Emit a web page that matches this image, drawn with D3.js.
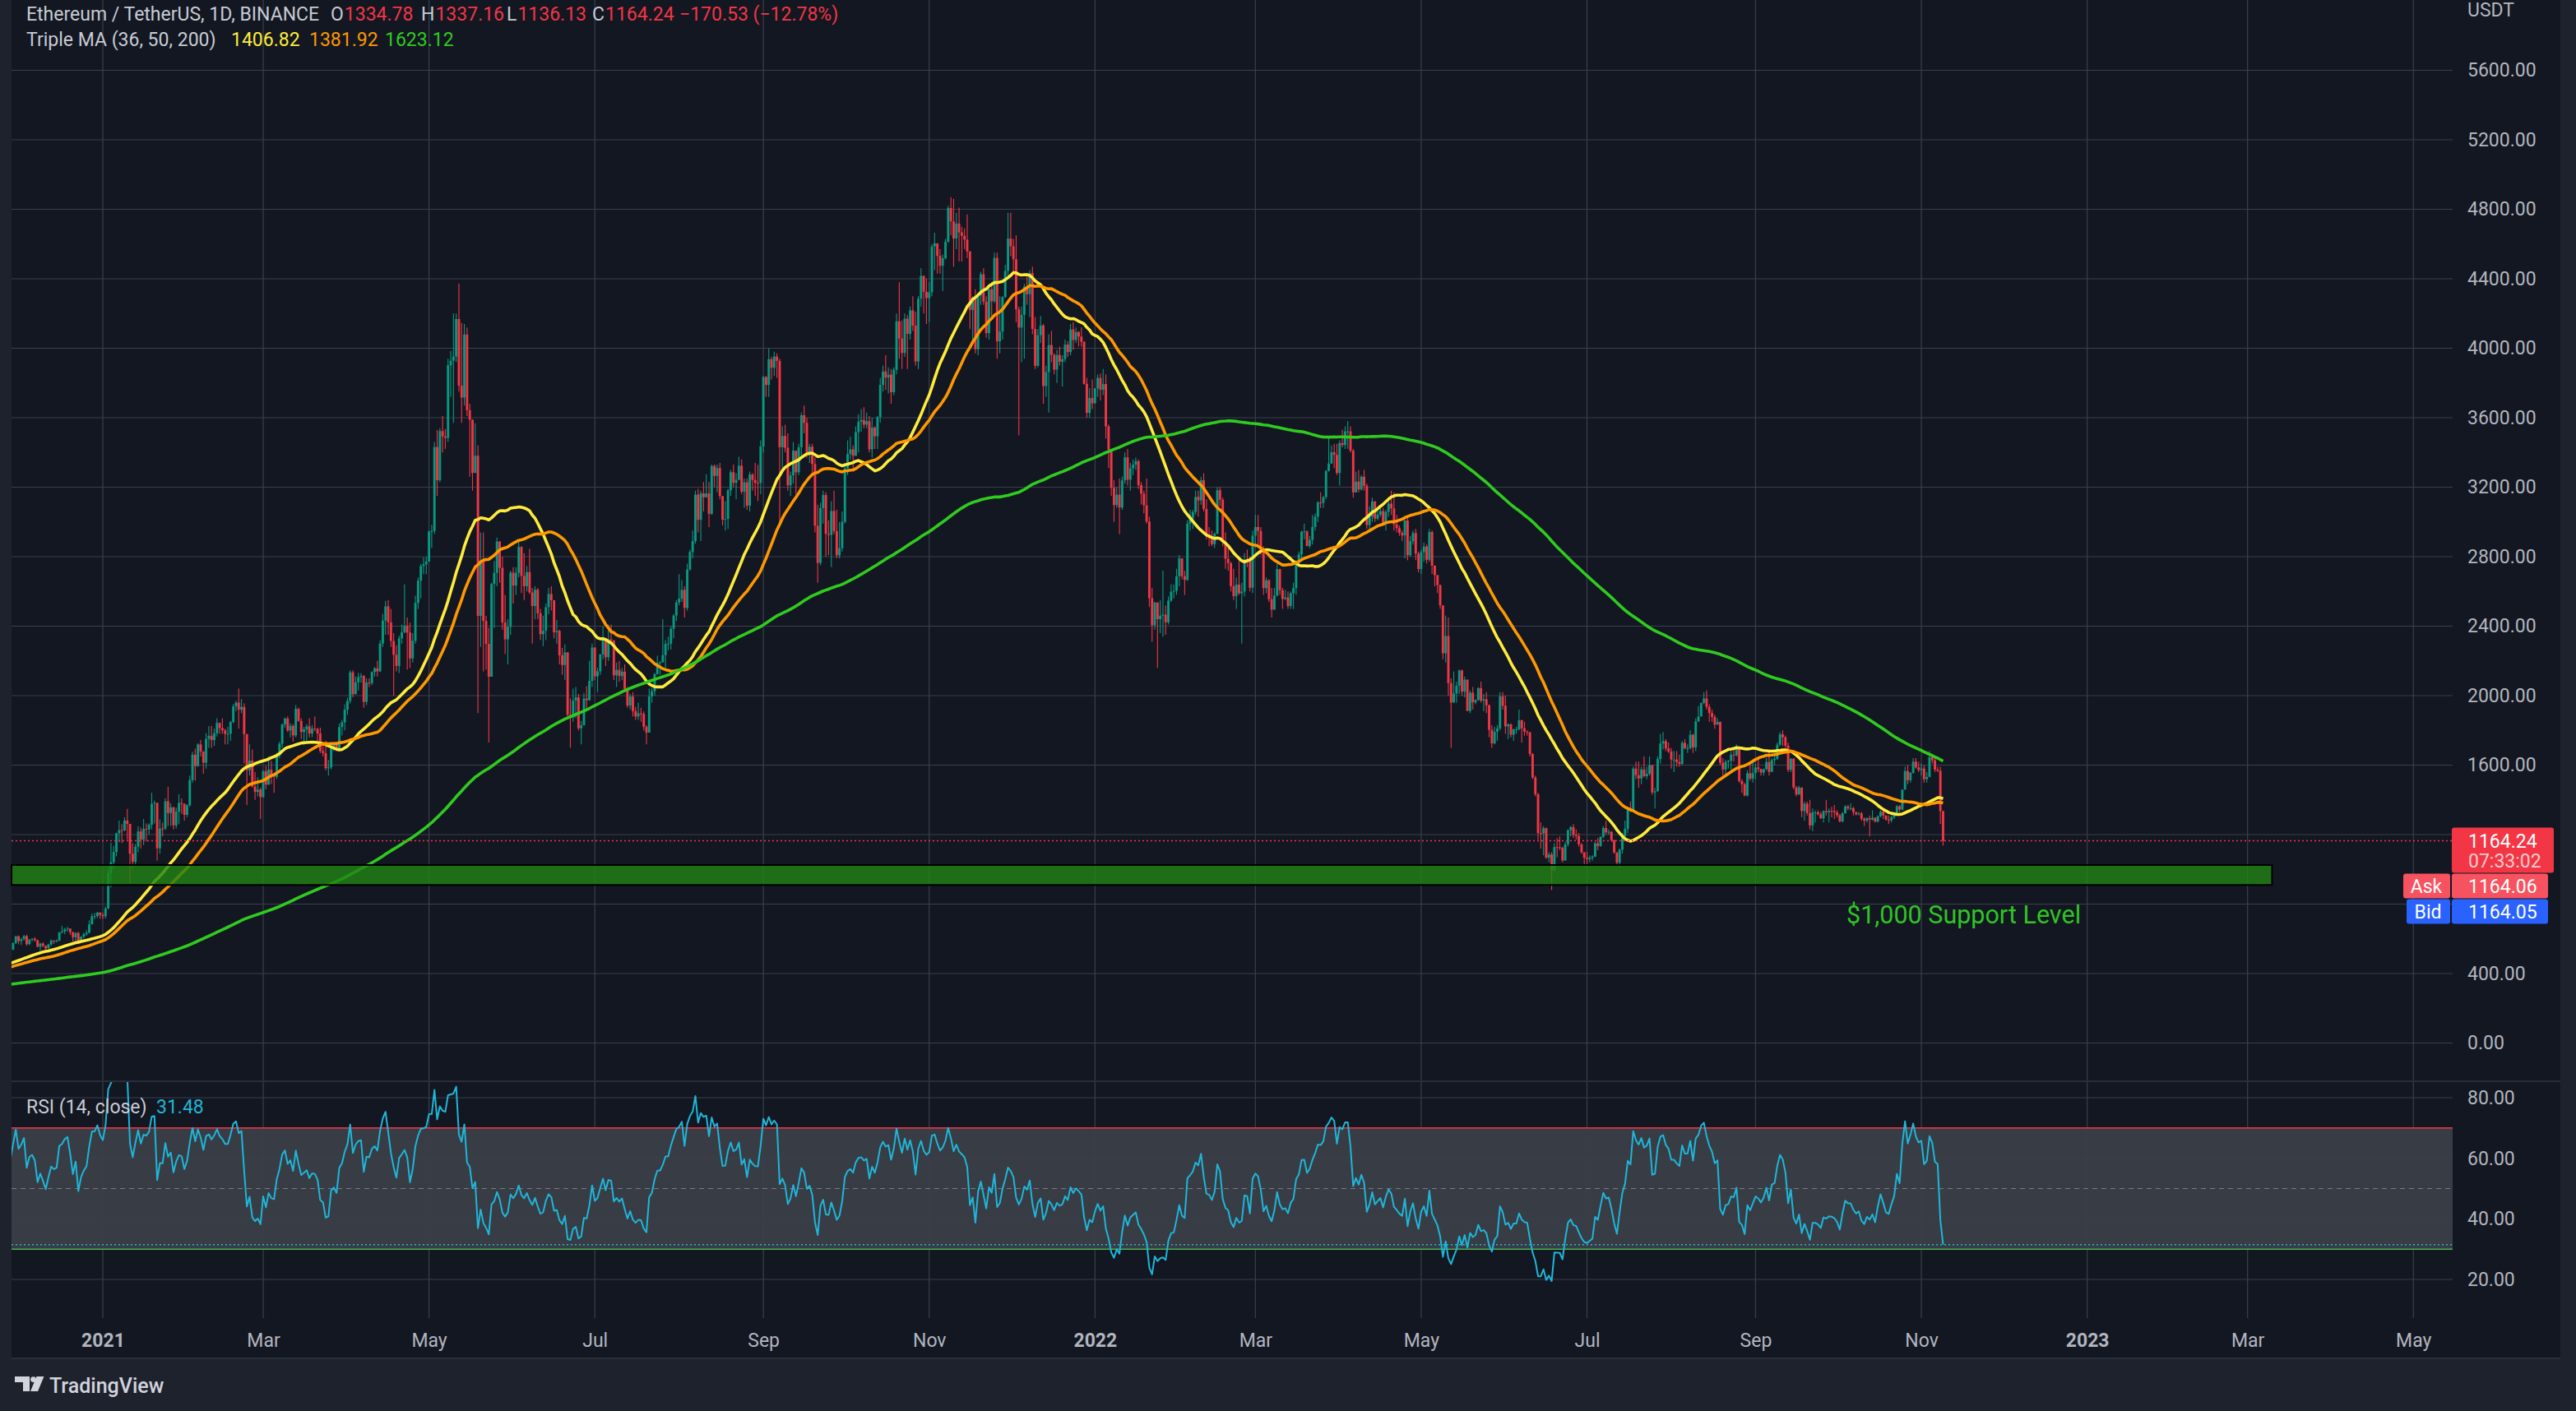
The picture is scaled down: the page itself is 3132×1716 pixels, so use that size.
<!DOCTYPE html>
<html>
<head>
<meta charset="utf-8">
<script src="https://cdnjs.cloudflare.com/ajax/libs/d3/7.8.5/d3.min.js"></script>
<style>
  html, body { margin: 0; padding: 0; background: #1e222d; overflow: hidden; }
  svg { display: block; }
</style>
</head>
<body>
<svg id="chart"></svg>
<script>
// daily closes, 13 May 2020 .. 31 Dec 2020 (the part before 29 Nov only feeds the MAs / RSI)
const closes2020 = [
  200,203,194,200,207,214,213,209,198,208,207,200,205,202,209,220,220,244,232,
  247,237,244,244,241,242,244,246,244,247,231,237,238,234,231,235,235,233,229,230,229,243,244,235,232,229,221,225,228,226,
  231,230,225,229,228,241,239,246,242,241,239,242,240,241,238,233,233,235,239,236,246,263,275,279,305,311,322,318,318,335,346,
  387,370,386,390,401,395,379,391,391,395,379,389,428,437,433,434,429,423,406,416,389,396,391,408,383,386,381,395,400,428,435,
  477,440,385,388,335,353,352,337,351,368,374,387,365,377,365,365,389,384,385,371,341,344,321,348,352,355,357,354,360,359,
  353,346,346,353,353,340,341,351,365,370,375,387,381,379,377,366,368,377,380,368,391,414,409,413,406,393,404,388,386,383,386,
  396,383,387,402,415,455,435,453,444,449,462,462,475,460,448,460,481,479,471,510,549,560,609,604,569,518,518,538,575,615,
  587,598,616,569,596,601,592,555,573,560,545,568,590,586,589,637,642,654,659,638,609,634,584,612,626,635,683,730,731,751,737
];
const closes2021 = [
  730,775,979,1041,1100,1208,1225,1224,1281,1262,1090,1043,1130,1218,1171,1233,1230,1257,1377,1382,1121,1235,1234,1392,1324,1357,1253,1332,1382,1377,1314,
  1369,1514,1660,1594,1719,1678,1614,1751,1769,1744,1783,1843,1813,1800,1780,1781,1848,1938,1960,1919,1935,1778,1571,1626,1476,1446,1459,1416,
  1565,1488,1574,1540,1533,1654,1723,1834,1868,1799,1826,1771,1924,1854,1791,1806,1823,1782,1810,1808,1782,1681,1669,1582,1587,1702,1716,1691,1819,1846,1919,
  1969,2134,2008,2077,2107,2113,1964,2075,2072,2136,2157,2139,2300,2432,2514,2422,2315,2235,2171,2330,2364,2403,2363,2214,2316,2534,2662,2746,2756,2772,
  2945,2948,3431,3240,3523,3492,3484,3902,3928,3952,4168,3785,3716,4079,3643,3588,3282,3381,2459,2778,2430,2298,2109,2643,2706,2887,2736,2421,2324,2396,2708,
  2634,2707,2856,2689,2630,2711,2594,2516,2610,2474,2354,2373,2509,2585,2549,2365,2373,2232,2176,2249,1889,1875,1971,1990,1812,1829,1983,1974,2085,2277,
  2111,2140,2237,2331,2221,2324,2317,2117,2148,2113,2138,2038,1943,1995,1911,1880,1898,1895,1821,1787,1995,2025,2124,2189,2191,2233,2298,2299,2385,2461,2536,
  2558,2609,2505,2726,2827,2890,3157,3012,3164,3142,3164,3047,3322,3265,3310,3149,3013,3017,3182,3286,3225,3243,3324,3174,3228,3094,3273,3242,3225,3224,3434,
  3834,3789,3937,3887,3952,3927,3430,3495,3427,3211,3268,3410,3286,3430,3614,3570,3398,3433,3334,2978,2764,3080,3155,2931,2925,3063,2947,2808,2849,3001,
  3308,3391,3418,3381,3517,3577,3587,3560,3580,3418,3543,3493,3603,3789,3866,3831,3848,3747,3876,4155,4056,3973,4170,4083,4218,4130,3924,4285,4417,4325,4288,
  4322,4586,4604,4532,4475,4518,4612,4807,4730,4632,4718,4667,4647,4625,4557,4221,4290,3994,4304,4426,4268,4087,4340,4270,4520,4040,4096,4295,4445,4631,
  4587,4512,4224,4119,4192,4354,4311,4432,4111,3899,4075,4131,3782,3863,4018,3962,3877,3961,3922,3937,4021,3978,4108,4047,4093,4067,4037,3795,3628,3713,3683
];
const closes2022 = [
  3769,3829,3761,3794,3550,3416,3196,3097,3157,3083,3239,3372,3243,3309,3330,3350,3212,3163,3096,3002,2561,2405,2536,2440,2460,2466,2422,2547,2598,2603,2687,
  2790,2688,2666,2990,3020,3057,3144,3124,3240,3075,2928,2917,2872,2932,3182,3128,2883,2788,2763,2630,2573,2639,2589,2599,2784,2777,2621,2921,
  2971,2948,2833,2619,2664,2555,2495,2576,2728,2607,2557,2565,2516,2590,2619,2772,2813,2943,2946,2861,2896,2971,3030,3112,3109,3143,3293,3336,3401,3386,3282,
  3454,3443,3521,3521,3410,3170,3232,3187,3260,3208,2982,3031,3118,3019,3042,3062,2990,3058,3105,3078,2986,2964,2937,2922,3008,2808,2889,2936,2817,2729,
  2826,2858,2782,2942,2748,2694,2636,2519,2244,2343,2072,1960,2012,2057,2145,2023,2092,1912,2017,1961,1975,2043,1971,1979,1944,1803,1725,1792,1811,1996,1942,
  1823,1834,1775,1806,1806,1859,1812,1793,1789,1664,1529,1432,1209,1207,1237,1067,1086,995,1128,1127,1124,1051,1144,1226,1243,1198,1192,1144,1098,1067,
  1059,1067,1074,1150,1134,1187,1238,1213,1216,1168,1097,1038,1113,1191,1233,1354,1339,1580,1542,1523,1575,1536,1550,1600,1443,1449,1635,1724,1738,1696,1679,
  1632,1632,1617,1607,1728,1697,1698,1775,1702,1851,1880,1958,1984,1935,1900,1877,1833,1849,1613,1575,1620,1625,1660,1656,1697,1508,1490,1425,1553,1522,1554,
  1587,1577,1557,1577,1618,1561,1629,1636,1717,1777,1761,1712,1573,1637,1472,1431,1471,1336,1378,1324,1253,1328,1328,1317,1294,1335,1329,1337,1335,1328,
  1311,1276,1323,1362,1352,1352,1330,1317,1322,1291,1280,1295,1287,1297,1275,1306,1331,1310,1286,1282,1300,1315,1363,1344,1459,1566,1513,1556,1620,1587,1572,
  1580,1519,1532,1646,1628,1574,1567,1334.78,1164.24
];

// daily highs / lows of the drawn candles, 29 Nov 2020 .. 9 Nov 2022
const highs2020 = [580,617,
  619,606,622,624,598,604,609,595,576,580,561,572,596,591,596,640,675,663,669,660,642,637,640,615,635,650,706,745,749,755,753];
const lows2020 = [535,570,
  568,564,591,560,565,585,583,550,533,551,530,543,560,571,580,588,630,627,641,623,585,585,570,581,602,618,630,683,712,720,715];
const highs2021 = [
  749,787,1011,1153,1135,1210,1280,1260,1300,1348,1262,1150,1146,1248,1240,1290,1265,1265,1441,1396,1385,1288,1270,1410,1476,1380,1360,1355,1432,1408,1380,
  1375,1540,1677,1695,1725,1745,1680,1785,1825,1825,1810,1870,1845,1870,1810,1820,1855,1952,1970,2040,1980,1955,1780,1720,1690,1560,1530,1470,
  1570,1595,1650,1625,1550,1670,1735,1840,1875,1880,1842,1835,1945,1930,1870,1820,1835,1870,1830,1880,1815,1815,1725,1740,1630,1715,1730,1725,1840,1860,1950,
  1988,2145,2145,2110,2130,2130,2120,2100,2100,2140,2165,2200,2320,2470,2545,2550,2500,2360,2290,2345,2410,2640,2450,2420,2360,2575,2680,2760,2795,2800,
  2950,2984,3460,3530,3540,3610,3535,3940,3985,4200,4200,4372,4145,4140,4120,3680,3590,3568,3440,2938,2940,2460,2390,2650,2775,2910,2890,2800,2580,2440,2720,
  2740,2740,2890,2860,2820,2745,2845,2620,2630,2620,2500,2460,2530,2620,2630,2550,2435,2380,2275,2295,2250,1985,2040,2050,2010,1855,2015,2055,2200,2300,
  2275,2160,2240,2400,2330,2410,2410,2320,2190,2200,2160,2180,2050,2010,2020,1935,1960,1930,1910,1830,2040,2045,2130,2230,2200,2440,2320,2340,2400,2470,2550,
  2700,2665,2630,2760,2840,2950,3180,3190,3180,3230,3275,3230,3330,3330,3330,3340,3140,3120,3190,3300,3330,3280,3375,3360,3250,3250,3290,3280,3340,3330,3470,
  3840,3840,4000,3950,3980,3970,3940,3550,3560,3510,3290,3460,3410,3450,3630,3670,3600,3450,3450,3370,3100,3110,3180,3170,3010,3120,3180,3070,3000,3060,
  3330,3470,3490,3440,3550,3620,3650,3660,3630,3610,3600,3550,3610,3830,3900,3960,3890,3880,3890,4200,4380,4160,4200,4190,4240,4300,4210,4300,4460,4380,4400,
  4380,4600,4665,4580,4570,4540,4630,4820,4870,4860,4780,4810,4700,4690,4770,4560,4300,4340,4320,4440,4460,4300,4370,4380,4550,4550,4300,4300,4480,4780,
  4780,4630,4650,4240,4240,4370,4420,4450,4470,4180,4110,4185,4140,3900,4080,4100,3970,3990,4010,3960,4050,4040,4140,4150,4120,4100,4120,4040,3830,3770,3820
];
const lows2021 = [
  715,716,771,896,1003,1075,1156,1151,1220,1170,918,1000,1015,1100,1120,1140,1160,1200,1230,1264,1050,1090,1190,1226,1250,1250,1230,1235,1260,1320,1280,
  1300,1360,1500,1510,1590,1650,1550,1580,1700,1700,1710,1765,1780,1780,1720,1720,1740,1840,1910,1810,1900,1610,1370,1540,1472,1400,1420,1290,
  1412,1460,1485,1490,1440,1520,1640,1700,1815,1790,1760,1735,1760,1850,1750,1715,1740,1760,1760,1795,1740,1670,1650,1570,1540,1575,1680,1680,1680,1770,1800,
  1890,1955,1990,2010,2030,2075,1930,1945,2050,2060,2110,2110,2140,2280,2350,2350,2280,2000,2140,2130,2300,2360,2150,2160,2190,2300,2500,2560,2700,2700,
  2770,2850,2930,3150,3230,3400,3420,3460,3720,3570,3920,3750,3570,3670,3610,3260,3180,3300,1900,2280,2140,2150,1730,2120,2390,2630,2650,2380,2240,2180,2350,
  2530,2580,2680,2590,2550,2600,2585,2300,2440,2440,2320,2285,2320,2470,2490,2330,2300,2180,2120,2090,1870,1700,1850,1870,1800,1720,1840,1925,1970,2050,
  2090,2020,2120,2210,2170,2200,2300,2090,2050,2080,2090,2020,1930,1920,1880,1860,1860,1850,1800,1720,1790,1960,2000,2120,2120,2200,2160,2260,2265,2330,2430,
  2520,2540,2450,2490,2720,2790,2875,2940,2890,3060,3140,2970,3040,3200,3170,3130,2980,2950,2960,3150,3200,3130,3240,3160,3080,3070,3060,3180,3150,3120,3160,
  3400,3720,3720,3820,3840,3830,3000,3300,3400,3180,3150,3220,3160,3270,3360,3510,3370,3340,3280,2940,2650,2750,2990,2800,2810,2740,2930,2790,2790,2830,
  2990,3270,3360,3290,3380,3400,3520,3540,3540,3400,3370,3420,3420,3570,3750,3760,3740,3680,3730,3850,3940,3880,3950,3880,4050,4100,3900,3880,4240,4200,4140,
  4150,4300,4450,4430,4430,4330,4510,4610,4650,4470,4570,4500,4500,4570,4520,4110,4050,3970,3960,4250,4250,4060,4050,4180,4260,3940,3970,4050,4290,4400,
  4530,4430,4150,3500,3920,3940,4250,4180,4080,3880,3890,4030,3680,3720,3630,3920,3850,3800,3900,3780,3920,3950,3960,3990,4030,4010,4010,3790,3600,3600,3650
];
const highs2022 = [
  3770,3850,3855,3880,3850,3560,3420,3240,3200,3250,3260,3400,3420,3340,3360,3370,3360,3230,3180,3250,3030,2620,2540,2470,2550,2720,2520,2570,2640,2640,2730,
  2810,2790,2720,3010,3070,3070,3180,3180,3260,3280,3130,2970,2950,2940,3200,3200,3140,2940,2860,2770,2730,2680,2790,2650,2820,2840,2800,2950,
  3040,3040,2970,2860,2680,2670,2620,2620,2760,2730,2620,2610,2600,2600,2650,2780,2830,2950,2990,2950,2920,3040,3050,3120,3170,3150,3300,3480,3440,3450,3450,
  3470,3530,3550,3580,3550,3420,3290,3300,3270,3300,3220,3090,3140,3120,3080,3090,3080,3070,3130,3180,3170,3040,2980,2950,3020,3040,2920,2950,2960,2830,
  2840,2880,2870,2960,2950,2750,2690,2640,2520,2460,2450,2100,2140,2080,2150,2150,2110,2090,2030,2050,1980,2050,2080,2010,2020,1950,1830,1820,1830,2020,2020,
  2000,1840,1840,1810,1820,1920,1860,1850,1800,1790,1670,1540,1440,1270,1250,1240,1100,1100,1150,1180,1190,1130,1160,1230,1250,1260,1230,1210,1150,1100,
  1100,1080,1080,1160,1180,1190,1250,1280,1230,1220,1170,1100,1120,1210,1280,1360,1390,1590,1620,1620,1590,1650,1590,1650,1600,1470,1650,1780,1790,1750,1730,
  1700,1680,1680,1660,1740,1750,1720,1800,1780,1870,1940,1960,2020,2030,1950,1920,1890,1870,1850,1640,1630,1630,1680,1700,1720,1710,1520,1500,1570,1610,1620,
  1610,1650,1580,1580,1640,1690,1640,1660,1730,1790,1800,1770,1730,1640,1640,1480,1480,1470,1390,1390,1400,1350,1340,1340,1330,1340,1400,1350,1360,1370,
  1340,1320,1330,1370,1370,1380,1360,1330,1330,1330,1300,1300,1310,1340,1300,1310,1340,1340,1310,1310,1310,1320,1370,1370,1460,1590,1600,1560,1640,1640,1620,
  1610,1600,1560,1680,1660,1650,1590,1590,1337.16
];
const lows2022 = [
  3680,3720,3700,3730,3480,3310,3150,3000,3080,2930,3070,3220,3210,3180,3270,3300,3190,3100,3050,2990,2510,2310,2380,2160,2360,2340,2350,2410,2540,2560,2580,
  2630,2670,2580,2660,2950,2960,3040,3030,3100,3060,2900,2860,2860,2850,2930,3090,2860,2730,2720,2600,2550,2500,2580,2300,2570,2740,2600,2590,
  2850,2860,2810,2580,2590,2540,2450,2500,2570,2580,2500,2550,2500,2500,2500,2580,2750,2780,2900,2860,2850,2870,2950,3000,3080,3080,3130,3290,3340,3310,3270,
  3210,3430,3420,3420,3400,3140,3170,3170,3180,3180,2960,2950,3000,3000,3010,3030,2980,2950,3030,3040,2950,2940,2920,2890,2790,2780,2800,2870,2780,2710,
  2700,2770,2760,2770,2700,2630,2590,2500,2210,2190,2000,1700,1960,1960,2010,2000,1990,1910,1900,1920,1950,1970,1960,1910,1900,1760,1700,1720,1740,1800,1920,
  1780,1750,1760,1740,1780,1800,1730,1770,1770,1650,1520,1420,1170,1120,1080,1060,1040,880,990,1070,1110,1040,1050,1130,1190,1180,1170,1130,1090,1010,
  1030,1040,1050,1070,1110,1130,1180,1200,1200,1160,1090,1030,1010,1090,1190,1210,1330,1330,1520,1470,1490,1530,1520,1540,1430,1350,1450,1610,1690,1680,1670,
  1580,1560,1590,1590,1600,1690,1670,1690,1670,1680,1850,1880,1950,1920,1850,1850,1810,1840,1600,1520,1530,1580,1570,1620,1650,1500,1440,1420,1420,1510,1500,
  1520,1560,1540,1540,1570,1540,1560,1600,1630,1710,1710,1700,1560,1560,1460,1420,1430,1300,1280,1310,1230,1220,1270,1310,1290,1270,1310,1270,1300,1290,
  1300,1270,1270,1320,1340,1340,1310,1310,1310,1280,1250,1270,1190,1280,1270,1270,1300,1290,1280,1260,1270,1290,1310,1330,1340,1460,1490,1500,1550,1580,1560,
  1540,1500,1500,1530,1610,1560,1560,1260,1136.13
];

const firstDay = Date.UTC(2020, 4, 13);
const firstCandle = Date.UTC(2020, 10, 29);

const maPeriods = [36, 50, 200];
const maColors = ["#ffeb3b", "#ff9800", "#2fcb1f"];
const rsiPeriod = 14;

const priceTicks = [0, 400, 800, 1200, 1600, 2000, 2400, 2800, 3200, 3600, 4000, 4400, 4800, 5200, 5600];
// 800 and 1200 sit under the Bid / Ask / last-price boxes, so only their grid lines show
const priceLabels = [0, 400, 1600, 2000, 2400, 2800, 3200, 3600, 4000, 4400, 4800, 5200, 5600];
const rsiTicks = [20, 40, 60, 80];
const timeTicks = ["2021-01-01", "2021-03-01", "2021-05-01", "2021-07-01", "2021-09-01", "2021-11-01",
  "2022-01-01", "2022-03-01", "2022-05-01", "2022-07-01", "2022-09-01", "2022-11-01",
  "2023-01-01", "2023-03-01", "2023-05-01"];
const timeLabels = ["2021", "Mar", "May", "Jul", "Sep", "Nov", "2022", "Mar", "May", "Jul", "Sep", "Nov", "2023", "Mar", "May"];

const supportZone = [910, 1025];
const supportUntil = "2023-03-10";
const supportText = "$1,000 Support Level";

const ohlcLegend = [["O", "1334.78"], ["H", "1337.16"], ["L", "1136.13"], ["C", "1164.24"]];
const changeLegend = "\u2212170.53 (\u221212.78%)";
const maLegend = ["1406.82", "1381.92", "1623.12"];
const rsiLegend = "31.48";
const lastPrice = 1164.24, askPrice = "1164.06", bidPrice = "1164.05", countdown = "07:33:02";

// ---------------------------------------------------------------------------
const W = 3132, H = 1716;
const FONT = "Roboto, 'Noto Sans', sans-serif";
const plotL = 14, plotR = 2982, axisR = 3113;
const priceBot = 1314, rsiTop = 1316, rsiBot = 1603, frameBot = 1652;
const TEXT = "#b2b5be";

const closes = closes2020.concat(closes2021, closes2022);
const highs = highs2020.concat(highs2021, highs2022);
const lows = lows2020.concat(lows2021, lows2022);
const dates = closes.map((_, i) => d3.utcDay.offset(new Date(firstDay), i));
const startIdx = d3.utcDay.count(new Date(firstDay), new Date(firstCandle));

const candles = highs.map((h, j) => {
  const i = startIdx + j;
  const o = closes[i - 1], c = closes[i];
  return { date: dates[i], o: o, c: c, h: Math.max(h, o, c), l: Math.min(lows[j], o, c) };
});

function sma(values, n) {
  return values.map((v, i) => i < n - 1 ? null : d3.mean(values.slice(i - n + 1, i + 1)));
}

function rsi(values, n) {
  const out = values.map(() => null);
  let g = 0, l = 0;
  for (let i = 1; i <= n; i++) {
    const d = values[i] - values[i - 1];
    g += Math.max(d, 0); l += Math.max(-d, 0);
  }
  g /= n; l /= n;
  out[n] = 100 - 100 / (1 + g / l);
  for (let i = n + 1; i < values.length; i++) {
    const d = values[i] - values[i - 1];
    g = (g * (n - 1) + Math.max(d, 0)) / n;
    l = (l * (n - 1) + Math.max(-d, 0)) / n;
    out[i] = l === 0 ? 100 : 100 - 100 / (1 + g / l);
  }
  return out;
}

const x = d3.scaleUtc()
  .domain([new Date(Date.UTC(2021, 0, 1)), new Date(Date.UTC(2022, 0, 1))])
  .range([125, 125 + 365 * 3.305]);
const y = d3.scaleLinear().domain([0, 2000]).range([1268.5, 846]);
const yr = d3.scaleLinear().domain([20, 80]).range([1556, 1335]);

const svg = d3.select("#chart").attr("width", W).attr("height", H).attr("viewBox", `0 0 ${W} ${H}`);

svg.append("rect").attr("width", W).attr("height", H).attr("fill", "#1e222d");
svg.append("rect").attr("x", plotL).attr("y", 0).attr("width", axisR - plotL).attr("height", frameBot).attr("fill", "#131722");

const defs = svg.append("defs");
defs.append("clipPath").attr("id", "clipPrice").append("rect")
  .attr("x", plotL).attr("y", 0).attr("width", plotR - plotL).attr("height", priceBot);
defs.append("clipPath").attr("id", "clipRsi").append("rect")
  .attr("x", plotL).attr("y", rsiTop).attr("width", plotR - plotL).attr("height", rsiBot - rsiTop);

// RSI band below the grid
svg.append("rect")
  .attr("x", plotL).attr("width", plotR - plotL)
  .attr("y", yr(70)).attr("height", yr(30) - yr(70))
  .attr("fill", "rgba(255,255,255,0.16)");

// grid
const grid = svg.append("g").attr("stroke", "#3b3f4a").attr("stroke-width", 1.2);
grid.selectAll(".vg").data(timeTicks).enter().append("line")
  .attr("x1", d => x(new Date(d))).attr("x2", d => x(new Date(d)))
  .attr("y1", 0).attr("y2", rsiBot);
grid.selectAll(".hg").data(priceTicks).enter().append("line")
  .attr("x1", plotL).attr("x2", plotR)
  .attr("y1", d => y(d)).attr("y2", d => y(d));
grid.selectAll(".rg").data(rsiTicks).enter().append("line")
  .attr("x1", plotL).attr("x2", plotR)
  .attr("y1", d => yr(d)).attr("y2", d => yr(d));

// pane borders
svg.append("line").attr("x1", plotL).attr("x2", axisR).attr("y1", 1315).attr("y2", 1315)
  .attr("stroke", "#2a2e39").attr("stroke-width", 2);
svg.append("line").attr("x1", plotL).attr("x2", axisR).attr("y1", frameBot).attr("y2", frameBot)
  .attr("stroke", "#2a2e39").attr("stroke-width", 2);

// candles
const price = svg.append("g").attr("clip-path", "url(#clipPrice)");
const cg = price.append("g").selectAll("g").data(candles).enter().append("g")
  .attr("fill", d => d.c >= d.o ? "#089981" : "#f23645")
  .attr("stroke", d => d.c >= d.o ? "#089981" : "#f23645");
cg.append("line")
  .attr("x1", d => x(d.date)).attr("x2", d => x(d.date))
  .attr("y1", d => y(d.h)).attr("y2", d => y(d.l))
  .attr("stroke-width", 1.1);
cg.append("rect")
  .attr("x", d => x(d.date) - 1.45).attr("width", 2.9)
  .attr("y", d => y(Math.max(d.o, d.c)))
  .attr("height", d => Math.max(1, y(Math.min(d.o, d.c)) - y(Math.max(d.o, d.c))))
  .attr("stroke", "none");

// moving averages
maPeriods.forEach((p, k) => {
  const ma = sma(closes, p);
  const pts = ma.map((v, i) => ({ date: dates[i], v: v })).slice(startIdx - 2);
  price.append("path").datum(pts)
    .attr("fill", "none").attr("stroke", maColors[k]).attr("stroke-width", 3.6)
    .attr("stroke-linejoin", "round")
    .attr("d", d3.line().defined(d => d.v != null).x(d => x(d.date)).y(d => y(d.v)));
});

// support zone
svg.append("rect")
  .attr("x", plotL).attr("width", x(new Date(supportUntil)) - plotL)
  .attr("y", y(supportZone[1])).attr("height", y(supportZone[0]) - y(supportZone[1]))
  .attr("fill", "rgba(33,133,20,0.8)").attr("stroke", "#000").attr("stroke-width", 2);
svg.append("text")
  .attr("x", 2245).attr("y", 1123)
  .attr("font-family", FONT).attr("font-size", 30.5).attr("fill", "#2fc424")
  .text(supportText);

// last price line
svg.append("line").attr("x1", plotL).attr("x2", plotR)
  .attr("y1", y(lastPrice)).attr("y2", y(lastPrice))
  .attr("stroke", "#f23645").attr("stroke-width", 1.5).attr("stroke-dasharray", "2,3");

// RSI pane
svg.append("line").attr("x1", plotL).attr("x2", plotR).attr("y1", yr(50)).attr("y2", yr(50))
  .attr("stroke", "#787b86").attr("stroke-width", 1.2).attr("stroke-dasharray", "6,5");
svg.append("line").attr("x1", plotL).attr("x2", plotR).attr("y1", yr(70)).attr("y2", yr(70))
  .attr("stroke", "#f23645").attr("stroke-width", 1.5);
svg.append("line").attr("x1", plotL).attr("x2", plotR).attr("y1", yr(30)).attr("y2", yr(30))
  .attr("stroke", "#4caf50").attr("stroke-width", 1.5);
svg.append("line").attr("x1", plotL).attr("x2", plotR)
  .attr("y1", yr(+rsiLegend)).attr("y2", yr(+rsiLegend))
  .attr("stroke", "#1fb6d8").attr("stroke-width", 1.5).attr("stroke-dasharray", "2,3");
const rsiVals = rsi(closes, rsiPeriod).map((v, i) => ({ date: dates[i], v: v })).slice(startIdx - 2);
svg.append("g").attr("clip-path", "url(#clipRsi)").append("path").datum(rsiVals)
  .attr("fill", "none").attr("stroke", "#1fb6d8").attr("stroke-width", 2)
  .attr("stroke-linejoin", "round")
  .attr("d", d3.line().defined(d => d.v != null).x(d => x(d.date)).y(d => yr(d.v)));

// axes
function styleAxis(g) {
  g.select(".domain").remove();
  g.selectAll("text").attr("font-family", FONT).attr("font-size", 23).attr("fill", TEXT);
}
svg.append("g").attr("transform", `translate(2984,0)`)
  .call(d3.axisRight(y).tickValues(priceLabels).tickFormat(d3.format(".2f")).tickSize(0).tickPadding(16))
  .call(styleAxis);
svg.append("g").attr("transform", `translate(2984,0)`)
  .call(d3.axisRight(yr).tickValues(rsiTicks).tickFormat(d3.format(".2f")).tickSize(0).tickPadding(16))
  .call(styleAxis);
svg.append("g").attr("transform", `translate(0,${rsiBot})`)
  .call(d3.axisBottom(x).tickValues(timeTicks.map(d => new Date(d))).tickFormat((d, i) => timeLabels[i]).tickSize(0).tickPadding(19))
  .call(styleAxis)
  .call(g => g.selectAll("text").attr("font-weight", (d, i) => /^\d/.test(timeLabels[i]) ? 700 : 400));
svg.append("text").attr("x", 3000).attr("y", 20)
  .attr("font-family", FONT).attr("font-size", 23).attr("fill", TEXT).text("USDT");

// price labels on the axis
const ly = y(lastPrice);
const lab = svg.append("g").attr("font-family", FONT).attr("font-size", 23);
lab.append("rect").attr("x", 2981).attr("y", ly - 16).attr("width", 124).attr("height", 55).attr("rx", 3).attr("fill", "#f23645");
lab.append("text").attr("x", 3001).attr("y", ly + 8).attr("fill", "#fff").text(d3.format(".2f")(lastPrice));
lab.append("text").attr("x", 3001).attr("y", ly + 32).attr("fill", "rgba(255,255,255,0.75)").text(countdown);
[["Ask", askPrice, "#f7525f", 40], ["Bid", bidPrice, "#2962ff", 71]].forEach(([name, val, col, off], k) => {
  const top = ly + off;
  lab.append("rect").attr("x", k ? 2926 : 2922).attr("y", top).attr("width", k ? 53 : 57).attr("height", 30).attr("rx", 3).attr("fill", col);
  lab.append("rect").attr("x", 2981).attr("y", top).attr("width", 117).attr("height", 30).attr("rx", 3).attr("fill", col);
  lab.append("text").attr("x", k ? 2952 : 2950).attr("y", top + 23).attr("text-anchor", "middle").attr("fill", "#fff").text(name);
  lab.append("text").attr("x", 3001).attr("y", top + 23).attr("fill", "#fff").text(val);
});

// legends
const leg = svg.append("g").attr("font-family", FONT).attr("font-size", 23);
leg.append("text").attr("x", 32).attr("y", 25).attr("fill", "#c8cbd3").text("Ethereum / TetherUS, 1D, BINANCE");
const ohlcX = [402, 512, 616, 720];
ohlcLegend.forEach(([k, v], i) => {
  const t = leg.append("text").attr("x", ohlcX[i]).attr("y", 25);
  t.append("tspan").attr("fill", "#c8cbd3").text(k);
  t.append("tspan").attr("fill", "#f23645").attr("dx", 1).text(v);
});
leg.append("text").attr("x", 826).attr("y", 25).attr("fill", "#f23645").text(changeLegend);
leg.append("text").attr("x", 32).attr("y", 56).attr("fill", "#c8cbd3").text("Triple MA (36, 50, 200)");
const maX = [281, 376, 468];
maLegend.forEach((v, i) => leg.append("text").attr("x", maX[i]).attr("y", 56).attr("fill", maColors[i]).text(v));
leg.append("text").attr("x", 32).attr("y", 1354).attr("fill", "#c8cbd3").text("RSI (14, close)");
leg.append("text").attr("x", 190).attr("y", 1354).attr("fill", "#1fb6d8").text(rsiLegend);

// footer
const logo = svg.append("g").attr("fill", "#d1d4dc");
logo.append("path").attr("d", "M18,1674H36V1692H28V1681H18Z");
logo.append("circle").attr("cx", 40.5).attr("cy", 1677.6).attr("r", 3.4);
logo.append("path").attr("d", "M44.5,1674H53.5L46,1692H37Z");
svg.append("text").attr("x", 60).attr("y", 1694)
  .attr("font-family", FONT).attr("font-size", 25).attr("font-weight", 500).attr("fill", "#d1d4dc")
  .text("TradingView");
</script>
</body>
</html>
